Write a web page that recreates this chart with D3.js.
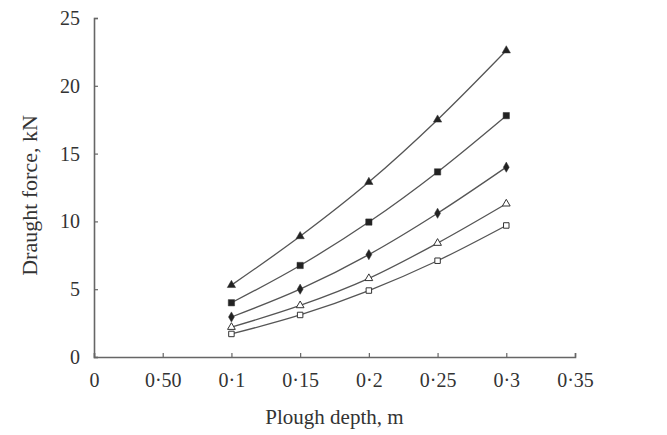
<!DOCTYPE html>
<html>
<head>
<meta charset="utf-8">
<script src="https://cdn.jsdelivr.net/npm/d3@7"></script>
<style>
  body { margin: 0; background: #fff; }
  svg text { font-family: "Liberation Serif", "DejaVu Serif", serif; fill: #333; }
</style>
</head>
<body>
<div id="chart"></div>
<script>

// ---------------- data ----------------
var depths = [0.1, 0.15, 0.2, 0.25, 0.3];

var seriesTriFilled  = [5.3, 8.9, 12.9, 17.5, 22.6];
var seriesSqFilled   = [4.0, 6.75, 9.95, 13.65, 17.8];
var seriesDiamond    = [2.95, 5.0, 7.55, 10.6, 14.0];
var seriesTriOpen    = [2.2, 3.8, 5.8, 8.4, 11.3];
var seriesSqOpen     = [1.7, 3.1, 4.9, 7.1, 9.7];

var xTickValues = [0, 0.05, 0.1, 0.15, 0.2, 0.25, 0.3, 0.35];
var xTickLabels = ["0", "0\u00b750", "0\u00b71", "0\u00b715", "0\u00b72", "0\u00b725", "0\u00b73", "0\u00b735"];
var yTickValues = [0, 5, 10, 15, 20, 25];

var seriesList = [
	{ values: seriesTriFilled, symbol: d3.symbolTriangle, size: 30, filled: true },
	{ values: seriesSqFilled,  symbol: d3.symbolSquare,   size: 40, filled: true },
	{ values: seriesDiamond,   symbol: d3.symbolDiamond,  size: 30, filled: true },
	{ values: seriesTriOpen,   symbol: d3.symbolTriangle, size: 26, filled: false },
	{ values: seriesSqOpen,    symbol: d3.symbolSquare,   size: 30, filled: false }
];

// ---------------- layout ----------------
var svgWidth = 667, svgHeight = 435;
var margin = { top: 18, right: 92, bottom: 78, left: 94 },
	width = svgWidth - margin.left - margin.right,
	height = svgHeight - margin.top - margin.bottom;

var x = d3.scaleLinear().domain([0, 0.35]).range([0, width]);
var y = d3.scaleLinear().domain([0, 25]).range([height, 0]);

var svg = d3.select("#chart").append("svg")
		.attr("width", svgWidth)
		.attr("height", svgHeight)
			.append("g")
			.attr("transform", "translate(" + margin.left + "," + margin.top + ")");

// x axis
var axisX = svg.append("g")
		.attr("transform", "translate(0," + height + ")")
		.call(d3.axisBottom(x).tickValues(xTickValues).tickSize(-4).tickPadding(16)
			.tickFormat(function(d, i) { return xTickLabels[i]; }));
axisX.select(".domain").attr("stroke", "#666").attr("stroke-width", 1.6);
axisX.selectAll(".tick line").attr("stroke", "#666").attr("stroke-width", 1.2);
axisX.selectAll(".tick text").attr("font-size", "20px").attr("fill", "#333")
		.attr("font-family", "Liberation Serif, serif");

// y axis
var axisY = svg.append("g")
		.call(d3.axisLeft(y).tickValues(yTickValues).tickSize(-4).tickPadding(14));
axisY.select(".domain").attr("stroke", "#666").attr("stroke-width", 1.6);
axisY.selectAll(".tick line").attr("stroke", "#666").attr("stroke-width", 1.2);
axisY.selectAll(".tick text").attr("font-size", "20px").attr("fill", "#333")
		.attr("font-family", "Liberation Serif, serif");

// axis titles
svg.append("text")
		.attr("x", width / 2)
		.attr("y", height + 67)
		.attr("text-anchor", "middle")
		.attr("font-size", "21px")
		.text("Plough depth, m");

svg.append("text")
		.attr("transform", "translate(" + (-57) + "," + (height / 2 + 8) + ") rotate(-90)")
		.attr("text-anchor", "middle")
		.attr("font-size", "22px")
		.text("Draught force, kN");

// lines
var line = d3.line()
		.x(function(d) { return x(d.depth); })
		.y(function(d) { return y(d.value); })
		.curve(d3.curveMonotoneX);

seriesList.forEach(function(s) {
	var pts = depths.map(function(dp, i) { return { depth: dp, value: s.values[i] }; });

	svg.append("path")
		.datum(pts)
		.attr("fill", "none")
		.attr("stroke", "#555")
		.attr("stroke-width", 1.3)
		.attr("d", line);

	svg.append("g").selectAll("path")
		.data(pts)
		.enter().append("path")
			.attr("transform", function(d) { return "translate(" + x(d.depth) + "," + y(d.value) + ")"; })
			.attr("d", d3.symbol().type(s.symbol).size(s.size))
			.attr("fill", s.filled ? "#222" : "#fff")
			.attr("stroke", "#333")
			.attr("stroke-width", s.filled ? 0.5 : 1);
});

</script>
</body>
</html>
